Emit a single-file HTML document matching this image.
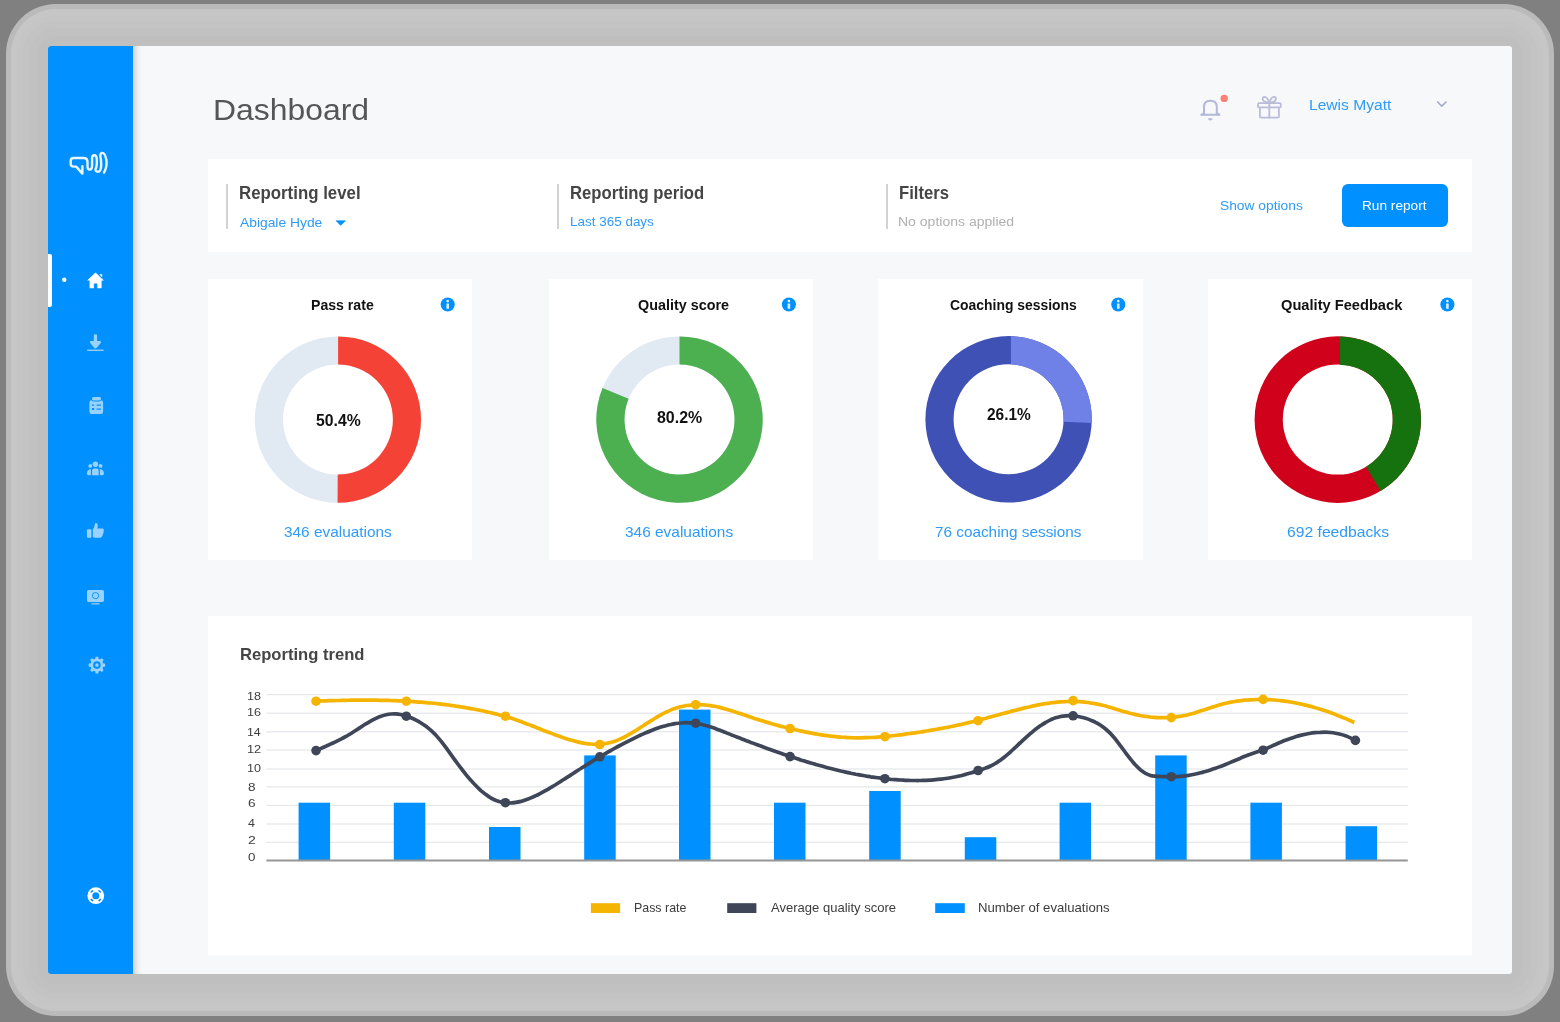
<!DOCTYPE html>
<html lang="en">
<head>
<meta charset="utf-8">
<title>Dashboard</title>
<style>
html,body{margin:0;padding:0}
body{width:1560px;height:1022px;background:#808080;position:relative;overflow:hidden;font-family:"Liberation Sans",sans-serif}
.a{position:absolute}
.t{position:absolute;white-space:nowrap;line-height:1;transform-origin:0 50%}
.txt{position:absolute;left:0;top:0;width:1560px;height:1022px;will-change:transform}
.frame{left:6px;top:4px;width:1548px;height:1012px;border-radius:50px;background:#bababa}
.panel{left:48px;top:46px;width:1464px;height:928px;border-radius:3px;background:#f7f8fa;overflow:hidden}
.side{left:48px;top:46px;width:85px;height:928px;background:#0090ff;border-radius:3px 0 0 3px}
.sideshadow{left:133px;top:46px;width:9px;height:928px;background:linear-gradient(90deg,rgba(0,0,0,.155),rgba(0,0,0,.10) 25%,rgba(0,0,0,.05) 50%,rgba(0,0,0,.018) 75%,rgba(0,0,0,0))}
.card{background:#fff}
.vline{width:2px;background:#d2d2d2}
.btn{left:1342px;top:184px;width:106px;height:43px;border-radius:6px;background:#0090ff}
.activebar{left:48px;top:254.4px;width:4px;height:52.3px;background:#fff;border-radius:0 2px 2px 0}
svg{position:absolute;left:0;top:0}
</style>
</head>
<body>
<div class="a frame"></div>
<div class="a" style="left:11px;top:9px;width:1538px;height:1002px;border-radius:45px;background:#c6c6c6"></div>
<div class="a" style="left:17px;top:15px;width:1526px;height:990px;border-radius:39px;background:#c5c5c5"></div>
<div class="a" style="left:23px;top:21px;width:1514px;height:978px;border-radius:33px;background:#c3c3c3"></div>
<div class="a" style="left:30px;top:28px;width:1500px;height:964px;border-radius:26px;background:#c1c1c1"></div>
<div class="a" style="left:38px;top:36px;width:1484px;height:948px;border-radius:18px;background:#bfbfbf"></div>
<div class="a panel"></div>
<div class="a side"></div>
<div class="a sideshadow"></div>
<div class="a activebar"></div>

<!-- filter bar -->
<div class="a card" style="left:208px;top:159px;width:1264px;height:93px"></div>
<div class="a vline" style="left:226px;top:184px;height:45px"></div>
<div class="a vline" style="left:556.5px;top:184px;height:45px"></div>
<div class="a vline" style="left:886px;top:184px;height:45px"></div>
<div class="a btn"></div>

<!-- stat cards -->
<div class="a card" style="left:208px;top:278.8px;width:264.2px;height:281.6px"></div>
<div class="a card" style="left:548.8px;top:278.8px;width:264.3px;height:281.6px"></div>
<div class="a card" style="left:878.3px;top:278.8px;width:264.7px;height:281.6px"></div>
<div class="a card" style="left:1208px;top:278.8px;width:264px;height:281.6px"></div>

<!-- trend card -->
<div class="a card" style="left:208px;top:615.5px;width:1264px;height:339.5px"></div>

<svg width="1560" height="1022" viewBox="0 0 1560 1022">
<!-- logo -->
<path fill="none" stroke="#eaf5ff" stroke-width="2.4" stroke-linecap="round" stroke-linejoin="round" d="M82.4 166.2L82.4 173.6L76.2 166.6L73.6 166.6Q70.7 166.6 70.7 163.8L70.7 160.8Q70.7 158 73.5 158L83.6 158Q87.5 158 87.5 162L87.5 166.6Q87.5 169.6 89.7 169.6Q92.1 169.6 92.1 165L92.1 158.2Q92.1 155.3 94.3 155.3Q96.8 155.3 96.8 160L96.8 163.5Q96.8 166.5 95.6 169Q95.2 171.8 97.9 171.8Q101.2 171.8 101.2 164.6Q101.2 160 100.4 156.2Q100.2 152.9 102.4 152.9Q105 152.9 106.4 160Q107.4 166.5 104 172.6"/>

<!-- active dot + home -->
<circle cx="64.3" cy="279.7" r="2.2" fill="#fff"/>
<g fill="#fff">
<path d="M95.5 272.4L104 280.4L101.6 280.4L101.6 288.2L97.3 288.2L97.3 283.6L93.9 283.6L93.9 288.2L89.6 288.2L89.6 280.4L87.1 280.4Z"/>
<path d="M99.2 274.2L102.2 274.2L102.2 277.2Z"/>
</g>

<!-- dim sidebar icons -->
<g fill="#fff" opacity=".6">
<!-- download -->
<path d="M93.8 335.6Q93.8 334.2 95.45 334.2Q97.1 334.2 97.1 335.6L97.1 341L99.8 341Q101.9 341.3 100.7 343.1L96.5 347.9Q95.45 348.9 94.4 347.9L90.2 343.1Q89 341.3 91.1 341L93.8 341Z"/>
<rect x="87.2" y="349.6" width="16.4" height="1.3"/>
<!-- clipboard -->
<path fill-rule="evenodd" d="M91.4 400.2L101.1 400.2Q103.1 400.2 103.1 402.4L103.1 411.8Q103.1 414.1 100.8 414.1L91.7 414.1Q89.4 414.1 89.4 411.8L89.4 402.4Q89.4 400.2 91.4 400.2ZM91.9 404.4L91.9 405.8L94.2 405.8L94.2 404.4ZM96.6 404.5L96.6 405.7L101 405.7L101 404.5ZM91.9 408.1L91.9 410.1L94.2 410.1L94.2 408.1ZM96.6 408.5L96.6 409.7L101 409.7L101 408.5Z"/>
<rect x="91.2" y="396.4" width="10.6" height="5" rx="2.4" fill="#0090ff" opacity="1"/>
<rect x="91.9" y="397" width="9.2" height="3.5" rx="1.7"/>
<!-- team -->
<circle cx="95.4" cy="464.2" r="2.7"/>
<circle cx="90.3" cy="465.9" r="1.9"/>
<circle cx="100.5" cy="465.9" r="1.9"/>
<path d="M92.1 475.2L92.1 470.6Q92.1 468.4 94.3 468.4L96.5 468.4Q98.7 468.4 98.7 470.6L98.7 475.2Z"/>
<path d="M90.9 475.2L90.9 469.2Q86.9 469.4 86.9 473.4Q86.9 475.2 88.6 475.2Z"/>
<path d="M99.9 475.2L99.9 469.2Q103.9 469.4 103.9 473.4Q103.9 475.2 102.2 475.2Z"/>
<!-- thumbs up -->
<path d="M86.9 530.2Q86.9 529.2 87.9 529.2L90.4 529.2Q91.4 529.2 91.4 530.2L91.4 536.8Q91.4 537.8 90.4 537.8L87.9 537.8Q86.9 537.8 86.9 536.8Z"/>
<path d="M92.8 529.6Q94.6 527.6 94.8 524.2Q94.9 522.9 96.1 522.9Q97.8 523 97.8 525.6Q97.8 527.2 97.2 528.4L102.4 528.4Q104 528.6 103.9 530.2Q103.4 534.6 101.8 537Q101.2 537.8 100 537.8L95.2 537.8Q93.8 537.8 92.8 537Z"/>
<!-- monitor -->
<path fill-rule="evenodd" d="M88.6 590.1L102.4 590.1Q104 590.1 104 591.7L104 600.3Q104 601.9 102.4 601.9L88.6 601.9Q87 601.9 87 600.3L87 591.7Q87 590.1 88.6 590.1ZM95.5 592.2A3.4 3.4 0 1 0 95.5 599A3.4 3.4 0 1 0 95.5 592.2ZM95.5 593A2.6 2.6 0 1 1 95.5 598.2A2.6 2.6 0 1 1 95.5 593Z"/>
<rect x="91.4" y="603.3" width="8.2" height="1.3" rx=".6"/>
<!-- gear -->
<path fill-rule="evenodd" d="M95.600 656.700L98.200 656.700L98.616 658.813L100.030 659.399L101.818 658.198L103.657 660.037L102.456 661.825L103.042 663.239L105.150 663.800L105.150 666.400L103.042 666.961L102.456 668.375L103.657 670.163L101.818 672.002L100.030 670.801L98.616 671.387L98.200 673.500L95.600 673.500L95.184 671.387L93.770 670.801L91.982 672.002L90.143 670.163L91.344 668.375L90.758 666.961L88.650 666.400L88.650 663.800L90.758 663.239L91.344 661.825L90.143 660.037L91.982 658.198L93.770 659.399L95.184 658.813ZM96.9 661.3A3.8 3.8 0 1 0 96.9 668.9A3.8 3.8 0 1 0 96.9 661.3ZM96.9 663.3A1.8 1.8 0 1 1 96.9 666.9A1.8 1.8 0 1 1 96.9 663.3Z"/>
</g>

<!-- lifebuoy -->
<g>
<circle cx="95.8" cy="895.7" r="8.4" fill="#fff"/>
<circle cx="95.8" cy="895.7" r="3.5" fill="#0090ff"/>
<g stroke="#0090ff" stroke-width="1.6" stroke-linecap="round">
<line x1="91.2" y1="892" x2="92.6" y2="890.8"/>
<line x1="99" y1="890.8" x2="100.4" y2="892"/>
<line x1="91.2" y1="899.4" x2="92.6" y2="900.6"/>
<line x1="99" y1="900.6" x2="100.4" y2="899.4"/>
</g>
</g>

<!-- bell -->
<g fill="none" stroke="#b3b8d8" stroke-width="2" stroke-linecap="round" stroke-linejoin="round">
<path d="M1201.2 114.8L1219.4 114.8M1204 114.2L1204 107Q1204 100.8 1210.3 100.8Q1216.8 100.8 1216.8 107L1216.8 114.2"/>
<path d="M1202 114.8L1204 113M1218.8 114.8L1216.8 113"/>
</g>
<path d="M1208 118.2L1212.6 118.2Q1212.4 120.6 1210.3 120.6Q1208.2 120.6 1208 118.2Z" fill="#b3b8d8"/>
<circle cx="1224.2" cy="98.4" r="3.7" fill="#fa8274"/>
<!-- gift -->
<g fill="none" stroke="#b9bdd9" stroke-width="1.8" stroke-linejoin="round" stroke-linecap="round">
<rect x="1258" y="103.2" width="22.8" height="4.2" rx="1"/>
<path d="M1259.9 107.6L1259.9 116.4Q1259.9 117.6 1261.1 117.6L1277.7 117.6Q1278.9 117.6 1278.9 116.4L1278.9 107.6"/>
<path d="M1269.3 102.4L1269.3 117.6"/>
<path d="M1269 102.6Q1267.6 97 1264.6 96.9Q1262.4 97 1262.7 99.2Q1263.2 102.4 1269 102.6Z"/>
<path d="M1269.6 102.6Q1271 97 1274 96.9Q1276.2 97 1275.9 99.2Q1275.4 102.4 1269.6 102.6Z"/>
</g>
<!-- user chevron -->
<path d="M1437.6 102L1441.8 106.2L1446 102" fill="none" stroke="#a7abcc" stroke-width="1.7" stroke-linecap="round" stroke-linejoin="round"/>
<!-- select caret -->
<path d="M336.1 220.7L345.4 220.7L340.75 225.4Z" fill="#0090ff" stroke="#0090ff" stroke-width=".6" stroke-linejoin="round"/>

<!-- info icons -->
<g id="info">
<circle cx="447.7" cy="304.5" r="7.05" fill="#0090ff"/>
<circle cx="447.7" cy="301.1" r="1.3" fill="#fff" opacity=".9"/>
<rect x="446.4" y="303.6" width="2.6" height="5.2" rx=".4" fill="#fff" opacity=".85"/>
</g>
<use href="#info" x="341.2"/>
<use href="#info" x="670.6"/>
<use href="#info" x="999.7"/>

<path fill="#e1e9f3" fill-rule="evenodd" d="M254.8 419.6A83.2 83.2 0 1 0 421.2 419.6A83.2 83.2 0 1 0 254.8 419.6ZM283.0 419.6A55.0 55.0 0 1 0 393.0 419.6A55.0 55.0 0 1 0 283.0 419.6Z"/><path fill="#f44336" d="M338.10 336.40A83.2 83.2 0 1 1 337.56 502.80L337.71 474.60A55.0 55.0 0 1 0 338.10 364.60Z"/>
<path fill="#e1e9f3" fill-rule="evenodd" d="M596.3 419.6A83.2 83.2 0 1 0 762.7 419.6A83.2 83.2 0 1 0 596.3 419.6ZM624.5 419.6A55.0 55.0 0 1 0 734.5 419.6A55.0 55.0 0 1 0 624.5 419.6Z"/><path fill="#4caf50" d="M679.50 336.40A83.2 83.2 0 1 1 602.52 388.03L628.61 398.73A55.0 55.0 0 1 0 679.50 364.60Z"/>
<path fill="#3f51b5" fill-rule="evenodd" d="M925.4 419.3A83.2 83.2 0 1 0 1091.8 419.3A83.2 83.2 0 1 0 925.4 419.3ZM953.6 419.3A55.0 55.0 0 1 0 1063.6 419.3A55.0 55.0 0 1 0 953.6 419.3Z"/><path fill="#6f80e6" d="M1010.90 336.13A83.2 83.2 0 0 1 1091.71 423.07L1063.54 421.79A55.0 55.0 0 0 0 1010.90 364.35Z"/>
<path fill="#d0021b" fill-rule="evenodd" d="M1254.6 419.6A83.2 83.2 0 1 0 1421.0 419.6A83.2 83.2 0 1 0 1254.6 419.6ZM1282.8 419.6A55.0 55.0 0 1 0 1392.8 419.6A55.0 55.0 0 1 0 1282.8 419.6Z"/><path fill="#16720f" d="M1339.90 336.43A83.2 83.2 0 0 1 1380.65 490.92L1366.13 466.74A55.0 55.0 0 0 0 1339.90 364.64Z"/>
<rect x="266.4" y="694.0" width="1141.4" height="1.2" fill="#e5e7ea"/>
<rect x="266.4" y="712.6" width="1141.4" height="1.2" fill="#e5e7ea"/>
<rect x="266.4" y="731.2" width="1141.4" height="1.2" fill="#e5e7ea"/>
<rect x="266.4" y="749.4" width="1141.4" height="1.2" fill="#e5e7ea"/>
<rect x="266.4" y="768.4" width="1141.4" height="1.2" fill="#e5e7ea"/>
<rect x="266.4" y="786.3" width="1141.4" height="1.2" fill="#e5e7ea"/>
<rect x="266.4" y="804.9" width="1141.4" height="1.2" fill="#e5e7ea"/>
<rect x="266.4" y="823.4" width="1141.4" height="1.2" fill="#e5e7ea"/>
<rect x="266.4" y="841.7" width="1141.4" height="1.2" fill="#e5e7ea"/>
<rect x="298.6" y="802.7" width="31.5" height="57.8" fill="#0090ff"/>
<rect x="393.8" y="802.7" width="31.5" height="57.8" fill="#0090ff"/>
<rect x="489" y="827" width="31.5" height="33.5" fill="#0090ff"/>
<rect x="584.2" y="755.4" width="31.5" height="105.1" fill="#0090ff"/>
<rect x="679" y="709.6" width="31.5" height="150.9" fill="#0090ff"/>
<rect x="774" y="802.7" width="31.5" height="57.8" fill="#0090ff"/>
<rect x="869.2" y="791" width="31.5" height="69.5" fill="#0090ff"/>
<rect x="964.8" y="837.2" width="31.5" height="23.3" fill="#0090ff"/>
<rect x="1059.6" y="802.7" width="31.5" height="57.8" fill="#0090ff"/>
<rect x="1155.2" y="755.4" width="31.5" height="105.1" fill="#0090ff"/>
<rect x="1250.4" y="802.7" width="31.5" height="57.8" fill="#0090ff"/>
<rect x="1345.6" y="826.2" width="31.5" height="34.3" fill="#0090ff"/>
<rect x="266.4" y="859.5" width="1141.4" height="2" fill="#969696"/>
<path d="M316.1 750.6C316.9 750.2 319.4 749.1 321.0 748.4C322.7 747.7 324.4 746.9 326.0 746.2C327.7 745.4 329.4 744.7 331.0 743.9C332.7 743.1 334.4 742.4 336.0 741.6C337.7 740.7 339.4 739.9 341.0 739.1C342.7 738.2 344.4 737.3 346.0 736.4C347.7 735.4 349.4 734.5 351.0 733.5C352.7 732.4 354.4 731.4 356.0 730.3C357.7 729.2 359.4 728.1 361.0 727.0C362.7 725.9 364.4 724.9 366.0 723.8C367.7 722.8 369.4 721.8 371.0 720.9C372.7 719.9 374.3 719.1 376.0 718.3C377.7 717.5 379.3 716.8 381.0 716.3C382.7 715.7 384.3 715.2 386.0 714.8C387.7 714.4 389.3 714.1 391.0 714.0C392.7 713.9 394.3 713.8 396.0 713.9C397.7 714.0 399.3 714.3 401.0 714.6C402.7 714.9 404.3 715.4 406.0 715.9C407.7 716.5 409.3 717.1 411.0 717.8C412.7 718.5 414.3 719.3 416.0 720.2C417.7 721.1 419.3 722.0 421.0 723.0C422.6 724.0 424.3 725.1 426.0 726.3C427.6 727.6 429.3 728.9 431.0 730.4C432.6 731.9 434.3 733.5 436.0 735.3C437.6 737.1 439.3 739.0 441.0 741.1C442.6 743.1 444.3 745.3 446.0 747.6C447.6 749.8 449.3 752.2 451.0 754.6C452.6 756.9 454.3 759.3 456.0 761.5C457.6 763.8 459.3 766.1 461.0 768.2C462.6 770.4 464.3 772.5 466.0 774.6C467.6 776.6 469.3 778.6 471.0 780.4C472.6 782.3 474.3 784.1 476.0 785.8C477.6 787.5 479.3 789.1 480.9 790.6C482.6 792.0 484.3 793.4 485.9 794.6C487.6 795.9 489.3 797.0 490.9 798.0C492.6 798.9 494.3 799.8 495.9 800.4C497.6 801.1 499.3 801.6 500.9 802.0C502.6 802.5 504.3 802.7 505.9 802.9C507.6 803.0 509.3 803.0 510.9 803.0C512.6 802.9 514.3 802.7 515.9 802.4C517.6 802.2 519.3 801.8 520.9 801.4C522.6 800.9 524.3 800.4 525.9 799.8C527.6 799.3 529.3 798.6 530.9 797.9C532.6 797.2 534.2 796.5 535.9 795.7C537.6 794.9 539.2 794.0 540.9 793.1C542.6 792.3 544.2 791.4 545.9 790.4C547.6 789.5 549.2 788.5 550.9 787.5C552.6 786.5 554.2 785.5 555.9 784.5C557.6 783.5 559.2 782.4 560.9 781.3C562.6 780.3 564.2 779.2 565.9 778.1C567.6 777.1 569.2 776.0 570.9 774.9C572.6 773.8 574.2 772.7 575.9 771.6C577.6 770.6 579.2 769.5 580.9 768.5C582.6 767.4 584.2 766.3 585.9 765.3C587.5 764.3 589.2 763.2 590.9 762.2C592.5 761.2 594.2 760.2 595.9 759.2C597.5 758.2 599.2 757.2 600.9 756.2C602.5 755.2 604.2 754.3 605.9 753.3C607.5 752.4 609.2 751.4 610.9 750.5C612.5 749.5 614.2 748.6 615.9 747.7C617.5 746.8 619.2 745.9 620.9 745.0C622.5 744.1 624.2 743.3 625.9 742.4C627.5 741.5 629.2 740.7 630.9 739.9C632.5 739.0 634.2 738.2 635.9 737.4C637.5 736.6 639.2 735.8 640.8 735.0C642.5 734.3 644.2 733.5 645.8 732.8C647.5 732.1 649.2 731.4 650.8 730.7C652.5 730.1 654.2 729.4 655.8 728.8C657.5 728.2 659.2 727.6 660.8 727.1C662.5 726.6 664.2 726.1 665.8 725.7C667.5 725.2 669.2 724.8 670.8 724.5C672.5 724.1 674.2 723.8 675.8 723.5C677.5 723.3 679.2 723.1 680.8 723.0C682.5 722.8 684.2 722.7 685.8 722.7C687.5 722.7 689.2 722.7 690.8 722.8C692.5 722.9 694.1 723.1 695.8 723.3C697.5 723.6 699.1 723.9 700.8 724.2C702.5 724.6 704.1 725.0 705.8 725.5C707.5 725.9 709.1 726.5 710.8 727.0C712.5 727.5 714.1 728.1 715.8 728.7C717.5 729.4 719.1 730.0 720.8 730.6C722.5 731.3 724.1 732.0 725.8 732.6C727.5 733.3 729.1 733.9 730.8 734.6C732.5 735.3 734.1 735.9 735.8 736.6C737.5 737.2 739.1 737.9 740.8 738.5C742.5 739.2 744.1 739.8 745.8 740.5C747.4 741.1 749.1 741.7 750.8 742.4C752.4 743.0 754.1 743.6 755.8 744.3C757.4 744.9 759.1 745.5 760.8 746.1C762.4 746.7 764.1 747.4 765.8 748.0C767.4 748.6 769.1 749.2 770.8 749.8C772.4 750.4 774.1 751.0 775.8 751.6C777.4 752.1 779.1 752.7 780.8 753.3C782.4 753.9 784.1 754.5 785.8 755.0C787.4 755.6 789.1 756.1 790.8 756.7C792.4 757.2 794.1 757.8 795.8 758.3C797.4 758.9 799.1 759.4 800.7 759.9C802.4 760.4 804.1 761.0 805.7 761.5C807.4 762.0 809.1 762.5 810.7 763.0C812.4 763.5 814.1 764.0 815.7 764.4C817.4 764.9 819.1 765.4 820.7 765.8C822.4 766.3 824.1 766.8 825.7 767.2C827.4 767.7 829.1 768.1 830.7 768.5C832.4 768.9 834.1 769.4 835.7 769.8C837.4 770.2 839.1 770.6 840.7 771.0C842.4 771.3 844.1 771.7 845.7 772.1C847.4 772.5 849.1 772.8 850.7 773.2C852.4 773.5 854.0 773.8 855.7 774.2C857.4 774.5 859.0 774.8 860.7 775.1C862.4 775.4 864.0 775.7 865.7 776.0C867.4 776.3 869.0 776.5 870.7 776.8C872.4 777.0 874.0 777.3 875.7 777.5C877.4 777.8 879.0 778.0 880.7 778.2C882.4 778.4 884.0 778.6 885.7 778.8C887.4 778.9 889.0 779.1 890.7 779.3C892.4 779.4 894.0 779.6 895.7 779.7C897.4 779.8 899.0 779.9 900.7 780.0C902.4 780.1 904.0 780.2 905.7 780.3C907.3 780.4 909.0 780.4 910.7 780.5C912.3 780.5 914.0 780.5 915.7 780.5C917.3 780.6 919.0 780.5 920.7 780.5C922.3 780.5 924.0 780.4 925.7 780.4C927.3 780.3 929.0 780.2 930.7 780.1C932.3 780.0 934.0 779.9 935.7 779.7C937.3 779.6 939.0 779.4 940.7 779.2C942.3 779.0 944.0 778.8 945.7 778.5C947.3 778.3 949.0 778.0 950.7 777.7C952.3 777.4 954.0 777.1 955.7 776.8C957.3 776.4 959.0 776.1 960.6 775.7C962.3 775.3 964.0 774.8 965.6 774.4C967.3 773.9 969.0 773.5 970.6 773.0C972.3 772.5 974.0 772.0 975.6 771.5C977.3 770.9 979.0 770.4 980.6 769.9C982.3 769.3 984.0 768.8 985.6 768.1C987.3 767.5 989.0 766.8 990.6 766.0C992.3 765.2 994.0 764.3 995.6 763.3C997.3 762.3 999.0 761.2 1000.6 760.0C1002.3 758.8 1004.0 757.5 1005.6 756.1C1007.3 754.7 1009.0 753.3 1010.6 751.8C1012.3 750.3 1013.9 748.7 1015.6 747.2C1017.3 745.6 1018.9 744.0 1020.6 742.5C1022.3 740.9 1023.9 739.3 1025.6 737.8C1027.3 736.3 1028.9 734.8 1030.6 733.4C1032.3 732.0 1033.9 730.6 1035.6 729.3C1037.3 728.0 1038.9 726.8 1040.6 725.6C1042.3 724.5 1043.9 723.4 1045.6 722.5C1047.3 721.5 1048.9 720.6 1050.6 719.8C1052.3 719.1 1053.9 718.4 1055.6 717.8C1057.3 717.3 1058.9 716.9 1060.6 716.5C1062.3 716.2 1063.9 715.9 1065.6 715.8C1067.2 715.7 1068.9 715.6 1070.6 715.7C1072.2 715.7 1073.9 715.9 1075.6 716.1C1077.2 716.3 1078.9 716.6 1080.6 717.0C1082.2 717.3 1083.9 717.8 1085.6 718.3C1087.2 718.8 1088.9 719.4 1090.6 720.1C1092.2 720.8 1093.9 721.5 1095.6 722.4C1097.2 723.2 1098.9 724.2 1100.6 725.3C1102.2 726.4 1103.9 727.6 1105.6 729.0C1107.2 730.4 1108.9 731.9 1110.6 733.6C1112.2 735.4 1113.9 737.3 1115.6 739.3C1117.2 741.4 1118.9 743.6 1120.5 745.8C1122.2 748.0 1123.9 750.4 1125.5 752.6C1127.2 754.8 1128.9 757.1 1130.5 759.2C1132.2 761.3 1133.9 763.3 1135.5 765.1C1137.2 766.9 1138.9 768.5 1140.5 769.9C1142.2 771.3 1143.9 772.5 1145.5 773.4C1147.2 774.3 1148.9 774.9 1150.5 775.4C1152.2 775.9 1153.9 776.0 1155.5 776.2C1157.2 776.4 1158.9 776.4 1160.5 776.5C1162.2 776.6 1163.9 776.7 1165.5 776.7C1167.2 776.8 1168.9 776.8 1170.5 776.8C1172.2 776.8 1173.8 776.8 1175.5 776.7C1177.2 776.7 1178.8 776.6 1180.5 776.4C1182.2 776.2 1183.8 776.0 1185.5 775.8C1187.2 775.6 1188.8 775.3 1190.5 775.0C1192.2 774.7 1193.8 774.4 1195.5 774.0C1197.2 773.7 1198.8 773.3 1200.5 772.8C1202.2 772.4 1203.8 771.9 1205.5 771.5C1207.2 771.0 1208.8 770.5 1210.5 769.9C1212.2 769.4 1213.8 768.8 1215.5 768.2C1217.2 767.7 1218.8 767.1 1220.5 766.4C1222.2 765.8 1223.8 765.2 1225.5 764.5C1227.1 763.8 1228.8 763.1 1230.5 762.4C1232.1 761.7 1233.8 761.0 1235.5 760.3C1237.1 759.6 1238.8 758.9 1240.5 758.2C1242.1 757.4 1243.8 756.7 1245.5 756.1C1247.1 755.4 1248.8 754.8 1250.5 754.2C1252.1 753.6 1253.8 753.1 1255.5 752.5C1257.1 752.0 1258.8 751.4 1260.5 750.8C1262.1 750.2 1263.8 749.6 1265.5 748.9C1267.1 748.2 1268.8 747.5 1270.5 746.7C1272.1 746.0 1273.8 745.2 1275.5 744.5C1277.1 743.7 1278.8 743.0 1280.4 742.3C1282.1 741.5 1283.8 740.9 1285.4 740.2C1287.1 739.6 1288.8 739.0 1290.4 738.4C1292.1 737.8 1293.8 737.3 1295.4 736.8C1297.1 736.3 1298.8 735.8 1300.4 735.4C1302.1 735.0 1303.8 734.6 1305.4 734.2C1307.1 733.9 1308.8 733.6 1310.4 733.3C1312.1 733.0 1313.8 732.8 1315.4 732.6C1317.1 732.5 1318.8 732.3 1320.4 732.3C1322.1 732.2 1323.8 732.2 1325.4 732.2C1327.1 732.2 1328.8 732.3 1330.4 732.5C1332.1 732.7 1333.7 732.9 1335.4 733.2C1337.1 733.5 1338.7 733.8 1340.4 734.3C1342.1 734.7 1343.7 735.2 1345.4 735.8C1347.1 736.4 1348.7 737.1 1350.4 737.9C1352.1 738.7 1354.6 740.1 1355.4 740.5" fill="none" stroke="#3e4658" stroke-width="3.7" stroke-linecap="round" stroke-linejoin="round"/>
<path d="M316.1 701.1C316.9 701.0 319.4 701.0 321.0 700.9C322.7 700.9 324.4 700.8 326.0 700.8C327.7 700.7 329.4 700.7 331.0 700.6C332.7 700.6 334.4 700.5 336.0 700.5C337.7 700.4 339.3 700.4 341.0 700.4C342.7 700.3 344.3 700.3 346.0 700.3C347.7 700.3 349.3 700.2 351.0 700.2C352.7 700.2 354.3 700.2 356.0 700.2C357.7 700.1 359.3 700.1 361.0 700.1C362.6 700.1 364.3 700.1 366.0 700.1C367.6 700.1 369.3 700.1 371.0 700.1C372.6 700.2 374.3 700.2 376.0 700.2C377.6 700.2 379.3 700.2 380.9 700.3C382.6 700.3 384.3 700.3 385.9 700.4C387.6 700.4 389.3 700.5 390.9 700.5C392.6 700.6 394.3 700.6 395.9 700.7C397.6 700.8 399.3 700.8 400.9 700.9C402.6 701.0 404.2 701.1 405.9 701.2C407.6 701.3 409.2 701.4 410.9 701.5C412.6 701.6 414.2 701.7 415.9 701.8C417.6 701.9 419.2 702.0 420.9 702.2C422.5 702.3 424.2 702.4 425.9 702.6C427.5 702.7 429.2 702.9 430.9 703.0C432.5 703.2 434.2 703.4 435.9 703.5C437.5 703.7 439.2 703.9 440.9 704.1C442.5 704.3 444.2 704.5 445.8 704.7C447.5 704.9 449.2 705.1 450.8 705.4C452.5 705.6 454.2 705.8 455.8 706.1C457.5 706.3 459.2 706.6 460.8 706.9C462.5 707.1 464.1 707.4 465.8 707.7C467.5 708.0 469.1 708.3 470.8 708.6C472.5 708.9 474.1 709.2 475.8 709.5C477.5 709.8 479.1 710.2 480.8 710.5C482.5 710.9 484.1 711.2 485.8 711.6C487.4 712.0 489.1 712.3 490.8 712.7C492.4 713.1 494.1 713.5 495.8 713.9C497.4 714.3 499.1 714.8 500.8 715.2C502.4 715.6 504.1 716.1 505.7 716.6C507.4 717.1 509.1 717.6 510.7 718.1C512.4 718.7 514.1 719.2 515.7 719.8C517.4 720.3 519.1 720.9 520.7 721.5C522.4 722.1 524.1 722.8 525.7 723.4C527.4 724.0 529.0 724.7 530.7 725.3C532.4 726.0 534.0 726.6 535.7 727.3C537.4 727.9 539.0 728.6 540.7 729.2C542.4 729.9 544.0 730.6 545.7 731.2C547.3 731.9 549.0 732.5 550.7 733.1C552.3 733.8 554.0 734.4 555.7 735.0C557.3 735.6 559.0 736.2 560.7 736.8C562.3 737.4 564.0 738.0 565.7 738.5C567.3 739.0 569.0 739.6 570.6 740.0C572.3 740.5 574.0 741.0 575.6 741.4C577.3 741.8 579.0 742.2 580.6 742.6C582.3 742.9 584.0 743.2 585.6 743.5C587.3 743.7 588.9 743.9 590.6 744.0C592.3 744.2 593.9 744.3 595.6 744.3C597.3 744.3 598.9 744.3 600.6 744.1C602.3 744.0 603.9 743.8 605.6 743.6C607.3 743.3 608.9 743.0 610.6 742.5C612.2 742.1 613.9 741.6 615.6 741.0C617.2 740.4 618.9 739.7 620.6 738.9C622.2 738.2 623.9 737.3 625.6 736.5C627.2 735.6 628.9 734.6 630.6 733.7C632.2 732.7 633.9 731.7 635.5 730.7C637.2 729.6 638.9 728.6 640.5 727.5C642.2 726.5 643.9 725.4 645.5 724.3C647.2 723.2 648.9 722.1 650.5 721.1C652.2 720.0 653.8 719.0 655.5 718.0C657.2 717.0 658.8 716.0 660.5 715.1C662.2 714.1 663.8 713.2 665.5 712.4C667.2 711.6 668.8 710.8 670.5 710.1C672.2 709.4 673.8 708.8 675.5 708.3C677.1 707.7 678.8 707.2 680.5 706.8C682.1 706.4 683.8 706.0 685.5 705.7C687.1 705.5 688.8 705.2 690.5 705.1C692.1 704.9 693.8 704.8 695.4 704.7C697.1 704.7 698.8 704.7 700.4 704.7C702.1 704.8 703.8 704.9 705.4 705.0C707.1 705.2 708.8 705.4 710.4 705.6C712.1 705.9 713.8 706.2 715.4 706.5C717.1 706.8 718.7 707.2 720.4 707.6C722.1 708.0 723.7 708.4 725.4 708.9C727.1 709.4 728.7 709.9 730.4 710.4C732.1 710.9 733.7 711.4 735.4 711.9C737.0 712.5 738.7 713.1 740.4 713.6C742.0 714.2 743.7 714.7 745.4 715.3C747.0 715.9 748.7 716.5 750.4 717.0C752.0 717.6 753.7 718.1 755.4 718.7C757.0 719.2 758.7 719.8 760.3 720.3C762.0 720.8 763.7 721.3 765.3 721.8C767.0 722.3 768.7 722.8 770.3 723.3C772.0 723.8 773.7 724.2 775.3 724.7C777.0 725.2 778.6 725.6 780.3 726.1C782.0 726.5 783.6 726.9 785.3 727.3C787.0 727.8 788.6 728.2 790.3 728.6C792.0 729.0 793.6 729.4 795.3 729.8C797.0 730.1 798.6 730.5 800.3 730.9C801.9 731.2 803.6 731.6 805.3 731.9C806.9 732.3 808.6 732.6 810.3 732.9C811.9 733.2 813.6 733.6 815.3 733.8C816.9 734.1 818.6 734.4 820.2 734.7C821.9 734.9 823.6 735.2 825.2 735.4C826.9 735.7 828.6 735.9 830.2 736.1C831.9 736.3 833.6 736.5 835.2 736.6C836.9 736.8 838.6 737.0 840.2 737.1C841.9 737.2 843.5 737.3 845.2 737.4C846.9 737.5 848.5 737.6 850.2 737.7C851.9 737.7 853.5 737.8 855.2 737.8C856.9 737.8 858.5 737.8 860.2 737.8C861.8 737.8 863.5 737.8 865.2 737.7C866.8 737.7 868.5 737.6 870.2 737.5C871.8 737.5 873.5 737.4 875.2 737.3C876.8 737.2 878.5 737.1 880.2 736.9C881.8 736.8 883.5 736.7 885.1 736.5C886.8 736.4 888.5 736.2 890.1 736.0C891.8 735.9 893.5 735.7 895.1 735.5C896.8 735.3 898.5 735.1 900.1 734.9C901.8 734.7 903.4 734.4 905.1 734.2C906.8 734.0 908.4 733.8 910.1 733.5C911.8 733.3 913.4 733.0 915.1 732.8C916.8 732.5 918.4 732.3 920.1 732.0C921.8 731.8 923.4 731.5 925.1 731.2C926.7 730.9 928.4 730.7 930.1 730.4C931.7 730.1 933.4 729.8 935.1 729.5C936.7 729.2 938.4 728.9 940.1 728.6C941.7 728.3 943.4 728.0 945.1 727.7C946.7 727.4 948.4 727.1 950.0 726.7C951.7 726.4 953.4 726.1 955.0 725.7C956.7 725.3 958.4 725.0 960.0 724.6C961.7 724.3 963.4 723.9 965.0 723.5C966.7 723.1 968.3 722.7 970.0 722.3C971.7 721.9 973.3 721.5 975.0 721.1C976.7 720.6 978.3 720.2 980.0 719.8C981.7 719.4 983.3 718.9 985.0 718.5C986.7 718.0 988.3 717.6 990.0 717.1C991.6 716.7 993.3 716.2 995.0 715.8C996.6 715.3 998.3 714.9 1000.0 714.4C1001.6 714.0 1003.3 713.5 1005.0 713.0C1006.6 712.6 1008.3 712.1 1009.9 711.7C1011.6 711.2 1013.3 710.8 1014.9 710.4C1016.6 709.9 1018.3 709.5 1019.9 709.1C1021.6 708.7 1023.3 708.2 1024.9 707.8C1026.6 707.4 1028.3 707.0 1029.9 706.7C1031.6 706.3 1033.2 705.9 1034.9 705.6C1036.6 705.2 1038.2 704.9 1039.9 704.6C1041.6 704.3 1043.2 704.0 1044.9 703.7C1046.6 703.5 1048.2 703.2 1049.9 703.0C1051.5 702.7 1053.2 702.5 1054.9 702.4C1056.5 702.2 1058.2 702.0 1059.9 701.9C1061.5 701.8 1063.2 701.7 1064.9 701.6C1066.5 701.5 1068.2 701.5 1069.9 701.4C1071.5 701.4 1073.2 701.4 1074.8 701.5C1076.5 701.5 1078.2 701.6 1079.8 701.7C1081.5 701.8 1083.2 702.0 1084.8 702.2C1086.5 702.3 1088.2 702.5 1089.8 702.8C1091.5 703.0 1093.1 703.3 1094.8 703.6C1096.5 703.9 1098.1 704.2 1099.8 704.6C1101.5 705.0 1103.1 705.4 1104.8 705.8C1106.5 706.2 1108.1 706.7 1109.8 707.2C1111.5 707.7 1113.1 708.2 1114.8 708.7C1116.4 709.3 1118.1 709.8 1119.8 710.3C1121.4 710.8 1123.1 711.4 1124.8 711.8C1126.4 712.3 1128.1 712.8 1129.8 713.2C1131.4 713.6 1133.1 714.1 1134.7 714.4C1136.4 714.8 1138.1 715.1 1139.7 715.5C1141.4 715.8 1143.1 716.1 1144.7 716.3C1146.4 716.6 1148.1 716.8 1149.7 717.0C1151.4 717.2 1153.1 717.3 1154.7 717.4C1156.4 717.6 1158.0 717.6 1159.7 717.7C1161.4 717.7 1163.0 717.7 1164.7 717.7C1166.4 717.7 1168.0 717.6 1169.7 717.5C1171.4 717.4 1173.0 717.3 1174.7 717.1C1176.3 716.9 1178.0 716.7 1179.7 716.4C1181.3 716.2 1183.0 715.9 1184.7 715.5C1186.3 715.2 1188.0 714.8 1189.7 714.3C1191.3 713.9 1193.0 713.4 1194.7 712.9C1196.3 712.4 1198.0 711.9 1199.6 711.3C1201.3 710.8 1203.0 710.2 1204.6 709.7C1206.3 709.1 1208.0 708.5 1209.6 708.0C1211.3 707.4 1213.0 706.9 1214.6 706.4C1216.3 705.8 1218.0 705.3 1219.6 704.8C1221.3 704.4 1222.9 703.9 1224.6 703.5C1226.3 703.1 1227.9 702.8 1229.6 702.4C1231.3 702.1 1232.9 701.8 1234.6 701.5C1236.3 701.2 1237.9 701.0 1239.6 700.8C1241.2 700.6 1242.9 700.4 1244.6 700.2C1246.2 700.1 1247.9 699.9 1249.6 699.8C1251.2 699.7 1252.9 699.6 1254.6 699.6C1256.2 699.5 1257.9 699.5 1259.6 699.4C1261.2 699.4 1262.9 699.5 1264.5 699.5C1266.2 699.5 1267.9 699.6 1269.5 699.7C1271.2 699.8 1272.9 699.9 1274.5 700.0C1276.2 700.1 1277.9 700.3 1279.5 700.5C1281.2 700.7 1282.8 700.9 1284.5 701.1C1286.2 701.3 1287.8 701.6 1289.5 701.8C1291.2 702.1 1292.8 702.4 1294.5 702.7C1296.2 703.0 1297.8 703.4 1299.5 703.7C1301.2 704.1 1302.8 704.5 1304.5 704.9C1306.1 705.3 1307.8 705.7 1309.5 706.1C1311.1 706.5 1312.8 707.0 1314.5 707.5C1316.1 708.0 1317.8 708.5 1319.5 709.0C1321.1 709.5 1322.8 710.0 1324.4 710.6C1326.1 711.1 1327.8 711.7 1329.4 712.3C1331.1 712.9 1332.8 713.5 1334.4 714.1C1336.1 714.8 1337.8 715.4 1339.4 716.1C1341.1 716.8 1342.8 717.4 1344.4 718.1C1346.1 718.8 1347.7 719.5 1349.4 720.3C1351.1 721.0 1353.6 722.2 1354.4 722.5" fill="none" stroke="#f5b400" stroke-width="3.7" stroke-linecap="butt" stroke-linejoin="round"/>
<circle cx="316.05" cy="750.6" r="4.8" fill="#3e4658"/>
<circle cx="406.3" cy="716.2" r="4.8" fill="#3e4658"/>
<circle cx="505.4" cy="802.7" r="4.8" fill="#3e4658"/>
<circle cx="599.8" cy="756.8" r="4.8" fill="#3e4658"/>
<circle cx="695.7" cy="723.2" r="4.8" fill="#3e4658"/>
<circle cx="790.05" cy="756.6" r="4.8" fill="#3e4658"/>
<circle cx="884.9" cy="778.7" r="4.8" fill="#3e4658"/>
<circle cx="978.1" cy="770.5" r="4.8" fill="#3e4658"/>
<circle cx="1073.1" cy="715.8" r="4.8" fill="#3e4658"/>
<circle cx="1171.3" cy="776.7" r="4.8" fill="#3e4658"/>
<circle cx="1263.1" cy="750.2" r="4.8" fill="#3e4658"/>
<circle cx="1355.4" cy="740.4" r="4.8" fill="#3e4658"/>
<circle cx="316.05" cy="701.2" r="4.8" fill="#f5b400"/>
<circle cx="406.3" cy="701.2" r="4.8" fill="#f5b400"/>
<circle cx="505.4" cy="716.2" r="4.8" fill="#f5b400"/>
<circle cx="599.8" cy="744.5" r="4.8" fill="#f5b400"/>
<circle cx="695.7" cy="704.7" r="4.8" fill="#f5b400"/>
<circle cx="790.05" cy="728.5" r="4.8" fill="#f5b400"/>
<circle cx="884.9" cy="736.7" r="4.8" fill="#f5b400"/>
<circle cx="978.1" cy="720.7" r="4.8" fill="#f5b400"/>
<circle cx="1073.1" cy="700.6" r="4.8" fill="#f5b400"/>
<circle cx="1171.3" cy="717.6" r="4.8" fill="#f5b400"/>
<circle cx="1263.1" cy="699.4" r="4.8" fill="#f5b400"/>
<rect x="590.9" y="903.2" width="29.2" height="9.8" fill="#f5b400"/>
<rect x="727.2" y="903.2" width="29.2" height="9.8" fill="#3e4658"/>
<rect x="935.2" y="903.2" width="29.6" height="9.8" fill="#0090ff"/>
</svg>

<div class="txt">
<span class="t" style="left:212.76px;top:94.83px;font-size:30.2px;font-weight:400;color:#565656;transform:scaleX(1.0564)">Dashboard</span>
<span class="t" style="left:239.31px;top:184.74px;font-size:17.6px;font-weight:700;color:#454545;transform:scaleX(0.9565)">Reporting level</span>
<span class="t" style="left:569.82px;top:184.74px;font-size:17.6px;font-weight:700;color:#454545;transform:scaleX(0.9470)">Reporting period</span>
<span class="t" style="left:898.72px;top:184.74px;font-size:17.6px;font-weight:700;color:#454545;transform:scaleX(0.9471)">Filters</span>
<span class="t" style="left:239.76px;top:215.68px;font-size:13.2px;font-weight:400;color:#2f9bf6;transform:scaleX(1.0487)">Abigale Hyde</span>
<span class="t" style="left:569.59px;top:215.08px;font-size:13.2px;font-weight:400;color:#2f9bf6;transform:scaleX(1.0209)">Last 365 days</span>
<span class="t" style="left:898.14px;top:215.08px;font-size:13.2px;font-weight:400;color:#b0b0b0;transform:scaleX(1.0629)">No options applied</span>
<span class="t" style="left:1219.80px;top:198.98px;font-size:13.2px;font-weight:400;color:#2f9bf6;transform:scaleX(1.0458)">Show options</span>
<span class="t" style="left:1361.77px;top:198.98px;font-size:13.2px;font-weight:400;color:#ffffff;transform:scaleX(1.0350)">Run report</span>
<span class="t" style="left:1309.35px;top:97.28px;font-size:15.2px;font-weight:400;color:#2f9bf6;transform:scaleX(1.0268)">Lewis Myatt</span>
<span class="t" style="left:310.74px;top:297.11px;font-size:15.4px;font-weight:700;color:#111111;transform:scaleX(0.9168)">Pass rate</span>
<span class="t" style="left:638.16px;top:297.11px;font-size:15.4px;font-weight:700;color:#111111;transform:scaleX(0.9332)">Quality score</span>
<span class="t" style="left:949.90px;top:297.11px;font-size:15.4px;font-weight:700;color:#111111;transform:scaleX(0.9041)">Coaching sessions</span>
<span class="t" style="left:1281.15px;top:297.11px;font-size:15.4px;font-weight:700;color:#111111;transform:scaleX(0.9519)">Quality Feedback</span>
<span class="t" style="left:315.64px;top:413.29px;font-size:16.6px;font-weight:700;color:#111111;transform:scaleX(0.9495)">50.4%</span>
<span class="t" style="left:656.62px;top:409.89px;font-size:16.6px;font-weight:700;color:#111111;transform:scaleX(0.9608)">80.2%</span>
<span class="t" style="left:986.63px;top:406.89px;font-size:16.6px;font-weight:700;color:#111111;transform:scaleX(0.9304)">26.1%</span>
<span class="t" style="left:284.03px;top:525.42px;font-size:14.8px;font-weight:400;color:#2f9bf6;transform:scaleX(1.0398)">346 evaluations</span>
<span class="t" style="left:624.83px;top:525.42px;font-size:14.8px;font-weight:400;color:#2f9bf6;transform:scaleX(1.0428)">346 evaluations</span>
<span class="t" style="left:935.23px;top:524.62px;font-size:14.8px;font-weight:400;color:#2f9bf6;transform:scaleX(1.0347)">76 coaching sessions</span>
<span class="t" style="left:1286.59px;top:525.42px;font-size:14.8px;font-weight:400;color:#2f9bf6;transform:scaleX(1.0603)">692 feedbacks</span>
<span class="t" style="left:239.59px;top:647.49px;font-size:16.6px;font-weight:700;color:#454545;transform:scaleX(1.0004)">Reporting trend</span>
<span class="t" style="left:633.77px;top:901.25px;font-size:13.0px;font-weight:400;color:#3d3d3d;transform:scaleX(0.9537)">Pass rate</span>
<span class="t" style="left:770.87px;top:901.25px;font-size:13.0px;font-weight:400;color:#3d3d3d;transform:scaleX(1.0022)">Average quality score</span>
<span class="t" style="left:978.00px;top:901.25px;font-size:13.0px;font-weight:400;color:#3d3d3d;transform:scaleX(1.0121)">Number of evaluations</span>
<span class="t" style="left:247.14px;top:690.55px;font-size:11.0px;font-weight:400;color:#3d3d3d;transform:scaleX(1.1419)">18</span>
<span class="t" style="left:247.14px;top:707.15px;font-size:11.0px;font-weight:400;color:#3d3d3d;transform:scaleX(1.1419)">16</span>
<span class="t" style="left:247.16px;top:726.75px;font-size:11.0px;font-weight:400;color:#3d3d3d;transform:scaleX(1.1207)">14</span>
<span class="t" style="left:247.12px;top:744.25px;font-size:11.0px;font-weight:400;color:#3d3d3d;transform:scaleX(1.1578)">12</span>
<span class="t" style="left:247.14px;top:763.25px;font-size:11.0px;font-weight:400;color:#3d3d3d;transform:scaleX(1.1389)">10</span>
<span class="t" style="left:247.89px;top:781.75px;font-size:11.0px;font-weight:400;color:#3d3d3d;transform:scaleX(1.2313)">8</span>
<span class="t" style="left:247.82px;top:798.45px;font-size:11.0px;font-weight:400;color:#3d3d3d;transform:scaleX(1.2429)">6</span>
<span class="t" style="left:248.23px;top:817.55px;font-size:11.0px;font-weight:400;color:#3d3d3d;transform:scaleX(1.1301)">4</span>
<span class="t" style="left:247.84px;top:835.15px;font-size:11.0px;font-weight:400;color:#3d3d3d;transform:scaleX(1.2719)">2</span>
<span class="t" style="left:247.95px;top:851.55px;font-size:11.0px;font-weight:400;color:#3d3d3d;transform:scaleX(1.2143)">0</span>
</div>
</body>
</html>
